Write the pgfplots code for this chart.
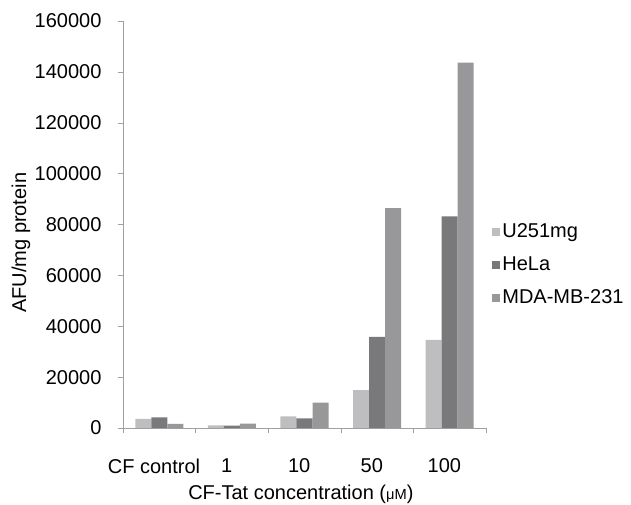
\documentclass[border=0pt]{standalone}
\usepackage{pgfplots}
\pgfplotsset{compat=1.18}
\usepackage{fontspec}
\setmainfont{Liberation Sans}
\definecolor{cU}{RGB}{190,190,192}
\definecolor{cH}{RGB}{121,121,123}
\definecolor{cM}{RGB}{152,152,154}
\definecolor{axgray}{RGB}{160,160,160}
\begin{document}
\fontsize{15pt}{18pt}\selectfont
\begin{tikzpicture}
\begin{axis}[
  at={(0,0)}, anchor=south west,
  scale only axis,
  width=272.25pt, height=305.25pt,
  ybar=0pt, bar width=12pt,
  xmin=-0.5, xmax=4.5,
  ymin=0, ymax=160000,
  ytick={0,20000,...,160000},
  xtick={0,1,2,3,4},
  xticklabels={CF control,1,10,50,100},
  minor xtick={-0.5,0.5,1.5,2.5,3.5,4.5},
  major x tick style={draw=none},
  minor x tick style={axgray},
  minor tick length=4pt,
  major tick length=4pt,
  tick align=outside,
  y tick style={axgray},
  axis lines*=left,
  axis line style={axgray,-},
  scaled y ticks=false,
  yticklabel style={/pgf/number format/fixed, /pgf/number format/1000 sep={}, /pgf/number format/assume math mode=true},
  tick label style={font=\fontsize{15pt}{18pt}\selectfont},
  label style={font=\fontsize{15pt}{18pt}\selectfont},
  x tick label style={yshift=-14pt, xshift=-4pt},
  y tick label style={xshift=-7pt},
  ylabel={AFU/mg protein},
  xlabel={CF-Tat concentration ({\fontsize{11pt}{12pt}\selectfont μM})},
  ylabel style={at={(axis description cs:-0.281,0.455)},anchor=center},
  xlabel style={at={(axis description cs:0.49,-0.162)},anchor=center},
  legend style={draw=none, fill=none, at={(axis description cs:1.015,0.40)}, anchor=west,
    font=\fontsize{15pt}{18pt}\selectfont, row sep=8pt, inner sep=0pt,
    /tikz/every even column/.append style={column sep=7pt}},
  legend cell align=left,
  legend image code/.code={\fill[#1,draw=none] (0pt,-3pt) rectangle (6pt,3pt);},
]
\addplot[fill=cU, draw=none] coordinates {(0,3550) (1,1050) (2,4600) (3,14900) (4,34600)};
\addplot[fill=cH, draw=none] coordinates {(0,4200) (1,900) (2,3800) (3,35800) (4,83200)};
\addplot[fill=cM, draw=none] coordinates {(0,1600) (1,1700) (2,10000) (3,86400) (4,143600)};
\legend{U251mg,HeLa,MDA-MB-231}
\end{axis}
\pgfresetboundingbox
\path[use as bounding box] (-92.25pt,-57.75pt) rectangle (381pt,321pt);
\end{tikzpicture}
\end{document}
